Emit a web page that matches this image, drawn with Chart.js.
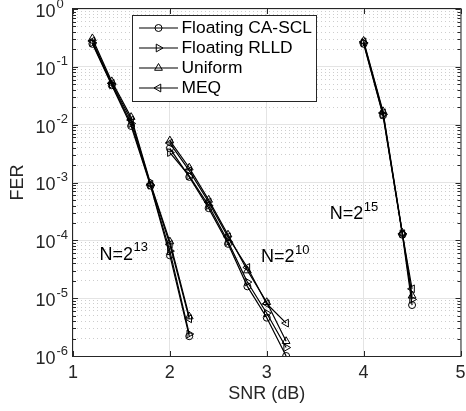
<!DOCTYPE html>
<html>
<head>
<meta charset="utf-8">
<script src="https://cdn.jsdelivr.net/npm/chart.js@4/dist/chart.umd.min.js"></script>
<style>
  html, body { margin: 0; padding: 0; background: #ffffff; }
  #wrap { width: 466px; height: 411px; position: relative; }
</style>
</head>
<body>
<div id="wrap"><canvas id="c"></canvas></div>
<script>
// SNR points (dB) for each code length
const snrN13 = [1.2, 1.4, 1.6, 1.8, 2.0, 2.2];
const snrN10 = [2.0, 2.2, 2.4, 2.6, 2.8, 3.0, 3.2];
const snrN15 = [4.0, 4.2, 4.4, 4.5];

// Decoder variants
const schemeNames = ['Floating CA-SCL', 'Floating RLLD', 'Uniform', 'MEQ'];

// FER, N = 2^13
const ferN13CaScl   = [0.25, 0.048, 0.0095, 8.8e-4, 5.5e-5, 2.2e-6];
const ferN13Rlld    = [0.26, 0.050, 0.0105, 9.0e-4, 6.5e-5, 2.4e-6];
const ferN13Uniform = [0.31, 0.056, 0.0135, 9.6e-4, 9.5e-5, 4.8e-6];
const ferN13Meq     = [0.28, 0.052, 0.0120, 9.3e-4, 8.5e-5, 4.4e-6];

// FER, N = 2^10
const ferN10CaScl   = [3.9e-3, 1.25e-3, 3.6e-4, 8.7e-5, 1.6e-5, 4.6e-6, 1.0e-6];
const ferN10Rlld    = [3.3e-3, 1.30e-3, 4.0e-4, 9.5e-5, 1.9e-5, 5.5e-6, 1.4e-6];
const ferN10Uniform = [5.3e-3, 1.80e-3, 5.0e-4, 1.25e-4, 3.0e-5, 8.5e-6, 1.8e-6];
const ferN10Meq     = [4.8e-3, 1.60e-3, 4.6e-4, 1.15e-4, 3.4e-5, 8.0e-6, 3.7e-6];

// FER, N = 2^15
const ferN15CaScl   = [0.25, 0.0145, 1.25e-4, 7.6e-6];
const ferN15Rlld    = [0.26, 0.0150, 1.30e-4, 9.5e-6];
const ferN15Uniform = [0.28, 0.0170, 1.35e-4, 1.1e-5];
const ferN15Meq     = [0.27, 0.0160, 1.30e-4, 1.45e-5];

// Axis ticks
const xTickValues = [1, 2, 3, 4, 5];
const yDecadeExponents = [0, -1, -2, -3, -4, -5, -6];

// Code-length annotations: [base, exponent, snr, fer]
const lengthLabels = [
  ['N=2', '13', 1.274, 5.6e-5],
  ['N=2', '10', 2.94, 5.1e-5],
  ['N=2', '15', 3.65, 2.8e-4]
];

const FONT = "'Liberation Sans', Arial, Helvetica, sans-serif";
const INK = '#000000';
const AXIS = '#262626';

// marker style per scheme: [pointStyle, rotation, radius]
const markerStyles = [
  ['circle', 0, 3.5],
  ['triangle', 90, 4.5],
  ['triangle', 0, 4.5],
  ['triangle', -90, 4.5]
];

function series(xs, ys) { return xs.map((x, i) => ({ x: x, y: ys[i] })); }

const groups = [
  [snrN13, [ferN13CaScl, ferN13Rlld, ferN13Uniform, ferN13Meq]],
  [snrN10, [ferN10CaScl, ferN10Rlld, ferN10Uniform, ferN10Meq]],
  [snrN15, [ferN15CaScl, ferN15Rlld, ferN15Uniform, ferN15Meq]]
];

const datasets = [];
groups.forEach(([xs, ysList]) => {
  ysList.forEach((ys, k) => {
    const m = markerStyles[k];
    datasets.push({
      label: schemeNames[k],
      data: series(xs, ys),
      borderColor: INK,
      borderWidth: 1.2,
      backgroundColor: 'rgba(0,0,0,0)',
      pointStyle: m[0],
      rotation: m[1],
      pointRadius: m[2],
      pointBorderWidth: 1,
      pointBorderColor: INK,
      pointBackgroundColor: 'rgba(0,0,0,0)',
      tension: 0
    });
  });
});

function isDecade(v) {
  const e = Math.log10(v);
  return Math.abs(e - Math.round(e)) < 1e-9;
}

// Text with a raised exponent, left-aligned at x, base vertically centered at y
function drawPowerText(ctx, base, exp, x, y, baseSize, expSize, expRise) {
  ctx.textBaseline = 'middle';
  ctx.textAlign = 'left';
  ctx.font = baseSize + 'px ' + FONT;
  ctx.fillText(base, x, y);
  const w = ctx.measureText(base).width;
  ctx.font = expSize + 'px ' + FONT;
  ctx.fillText(exp, x + w + 0.5, y - expRise);
}

const axesDecor = {
  id: 'axesDecor',
  afterDraw(chart) {
    const ctx = chart.ctx;
    const { left, right, top, bottom } = chart.chartArea;
    const xs = chart.scales.x, ys = chart.scales.y;
    ctx.save();

    // frame
    ctx.strokeStyle = AXIS;
    ctx.lineWidth = 1;
    ctx.strokeRect(left - 0.5, top - 0.5, right - left + 1, bottom - top + 1);

    // inward tick marks on y (both sides)
    ctx.beginPath();
    ys.ticks.forEach(t => {
      const py = Math.round(ys.getPixelForValue(t.value)) + 0.5;
      const len = isDecade(t.value) ? 5 : 3;
      ctx.moveTo(left, py); ctx.lineTo(left + len, py);
      ctx.moveTo(right, py); ctx.lineTo(right - len, py);
    });
    // inward tick marks on x (top and bottom)
    xTickValues.forEach(v => {
      const px = Math.round(xs.getPixelForValue(v)) + 0.5;
      ctx.moveTo(px, bottom); ctx.lineTo(px, bottom - 5);
      ctx.moveTo(px, top); ctx.lineTo(px, top + 5);
    });
    ctx.stroke();

    // y tick labels 10^k
    ctx.fillStyle = AXIS;
    yDecadeExponents.forEach(e => {
      const py = ys.getPixelForValue(Math.pow(10, e));
      ctx.font = '18px ' + FONT;
      ctx.textAlign = 'right';
      ctx.textBaseline = 'middle';
      ctx.fillText('10', 55.5, py + 3);
      ctx.font = '13px ' + FONT;
      ctx.textAlign = 'left';
      ctx.fillText(String(e), 56.5, py - 5);
    });

    // x tick labels
    ctx.font = '18px ' + FONT;
    ctx.textAlign = 'center';
    ctx.textBaseline = 'middle';
    xTickValues.forEach(v => {
      ctx.fillText(String(v), xs.getPixelForValue(v), 373);
    });

    // code-length annotations
    ctx.fillStyle = INK;
    lengthLabels.forEach(([b, e, sx, sy]) => {
      drawPowerText(ctx, b, e, xs.getPixelForValue(sx), ys.getPixelForValue(sy), 18, 13, 7);
    });

    // legend box
    const lx0 = 132.5, ly0 = 15.5, lx1 = 316.5, ly1 = 101.5;
    ctx.fillStyle = '#ffffff';
    ctx.fillRect(lx0, ly0, lx1 - lx0, ly1 - ly0);
    ctx.strokeStyle = AXIS;
    ctx.strokeRect(lx0, ly0, lx1 - lx0, ly1 - ly0);
    schemeNames.forEach((name, k) => {
      const yy = 28 + k * 20;
      ctx.strokeStyle = INK;
      ctx.lineWidth = 1.2;
      ctx.beginPath();
      ctx.moveTo(139, yy); ctx.lineTo(178, yy);
      ctx.stroke();
      const m = markerStyles[k];
      ctx.lineWidth = 1;
      ctx.fillStyle = 'rgba(0,0,0,0)';
      Chart.helpers.drawPoint(ctx, { pointStyle: m[0], rotation: m[1], radius: m[2], borderWidth: 1 }, 158.5, yy);
      ctx.fillStyle = INK;
      ctx.font = '17.4px ' + FONT;
      ctx.textAlign = 'left';
      ctx.textBaseline = 'middle';
      ctx.fillText(name, 181.5, yy + 0.5);
    });
    ctx.restore();
  }
};

new Chart(document.getElementById('c'), {
  type: 'line',
  data: { datasets: datasets },
  options: {
    responsive: true,
    maintainAspectRatio: false,
    animation: false,
    devicePixelRatio: 1,
    layout: { padding: { top: 9, right: 2, left: 0, bottom: 0 } },
    plugins: { legend: { display: false }, tooltip: { enabled: false } },
    scales: {
      x: {
        type: 'linear',
        min: 1, max: 5,
        afterFit(s) { s.height = 55; },
        ticks: { display: false, stepSize: 1 },
        afterBuildTicks(s) { s.ticks = xTickValues.map(v => ({ value: v })); },
        grid: { color: '#e4e4e4', lineWidth: 1, drawTicks: false },
        border: { display: false },
        title: {
          display: true, text: 'SNR (dB)', color: AXIS,
          font: { family: FONT, size: 18 }, padding: { top: 0, bottom: 6 }
        }
      },
      y: {
        type: 'logarithmic',
        min: 1e-6, max: 1,
        afterFit(s) { s.width = 73; },
        afterBuildTicks(s) {
          const t = [];
          for (let e = -6; e < 0; e++) {
            for (let m = 1; m < 10; m++) t.push({ value: m * Math.pow(10, e) });
          }
          t.push({ value: 1 });
          s.ticks = t;
        },
        ticks: { display: false, autoSkip: false },
        grid: {
          drawTicks: false,
          lineWidth: 1,
          color: c => (c.tick && isDecade(c.tick.value)) ? '#e4e4e4' : '#cdcdcd'
        },
        border: {
          display: false,
          dash: c => (c.tick && !isDecade(c.tick.value)) ? [1, 3] : []
        },
        title: {
          display: true, text: 'FER', color: AXIS,
          font: { family: FONT, size: 18 }, padding: { top: 7, bottom: 0 }
        }
      }
    }
  },
  plugins: [axesDecor]
});
</script>
</body>
</html>
